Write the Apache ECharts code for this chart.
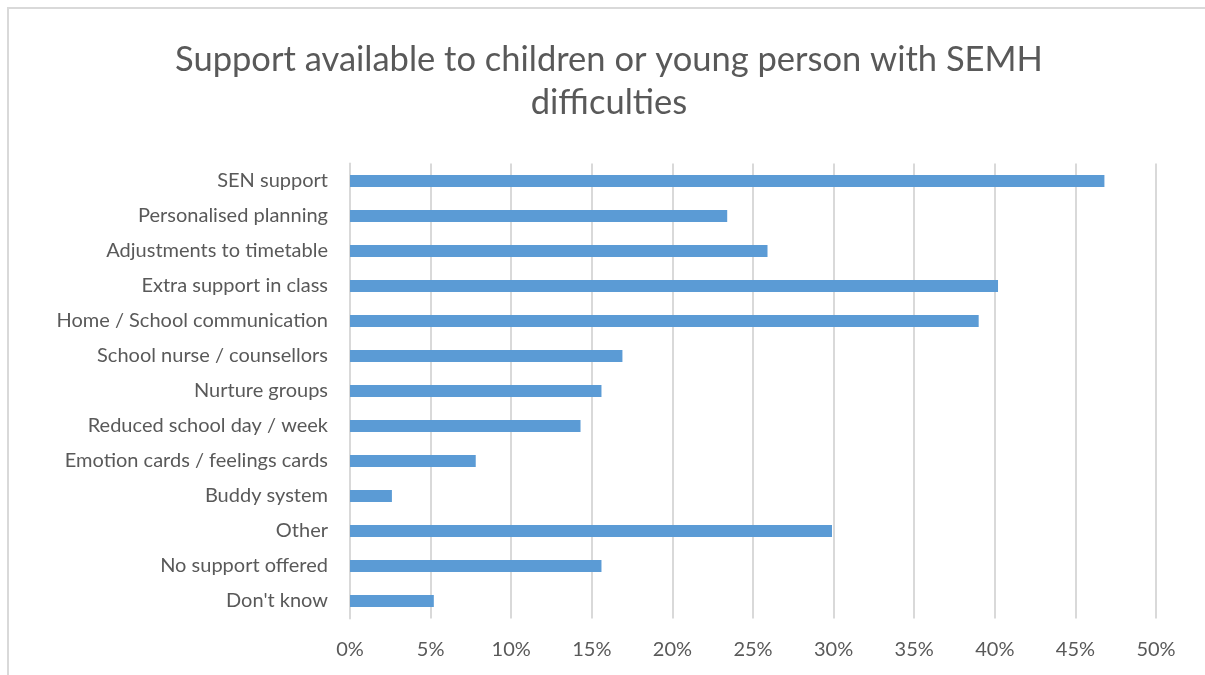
<!DOCTYPE html>
<html><head><meta charset="utf-8">
<script src="https://cdn.jsdelivr.net/npm/echarts@6/dist/echarts.min.js"></script>
<style>html,body{margin:0;padding:0;background:#fff}#c{width:1205px;height:675px}</style>
</head><body><div id="c"></div>
<script>
const categories = ["SEN support","Personalised planning","Adjustments to timetable","Extra support in class","Home / School communication","School nurse / counsellors","Nurture groups","Reduced school day / week","Emotion cards / feelings cards","Buddy system","Other","No support offered","Don't know"];
const values = [46.8, 23.4, 25.9, 40.2, 39.0, 16.9, 15.6, 14.3, 7.8, 2.6, 29.9, 15.6, 5.2];
const xTicks = [0, 5, 10, 15, 20, 25, 30, 35, 40, 45, 50];
const titleText = "Support available to children or young person with SEMH\ndifficulties";

const chart = echarts.init(document.getElementById('c'), null, {renderer:'canvas'});
const FONT = 'Lato';
chart.setOption({
  animation:false,
  backgroundColor:'#fff',
  grid:{left:350, right:49, top:163.5, bottom:56.5, containLabel:false},
  xAxis:{type:'value', min:xTicks[0], max:xTicks[xTicks.length-1], interval:5,
    axisLine:{show:false}, axisTick:{show:false},
    splitLine:{show:true, lineStyle:{color:'#d9d9d9', width:2}},
    axisLabel:{formatter:v=>v+'%', fontFamily:FONT, fontSize:20, color:'#595959', margin:21}},
  yAxis:{type:'category', data:categories, inverse:true,
    axisLine:{show:true, lineStyle:{color:'#d9d9d9', width:2}}, axisTick:{show:false},
    axisLabel:{fontFamily:FONT, fontSize:20, color:'#595959', margin:22, padding:[6,0,0,0]}},
  series:[{type:'bar', data:values, barWidth:12,
    itemStyle:{color:'#5b9bd5'}, silent:true}],
  graphic:[
    {type:'rect', shape:{x:8, y:8, width:1250, height:700},
      style:{fill:'none', stroke:'#d9d9d9', lineWidth:2}, silent:true, z:-1},
    {type:'text', x:609, y:81, silent:true,
      style:{text:titleText, fontFamily:FONT, fontSize:34.5, fill:'#595959',
        align:'center', verticalAlign:'middle', lineHeight:43}}
  ]
});
</script></body></html>
